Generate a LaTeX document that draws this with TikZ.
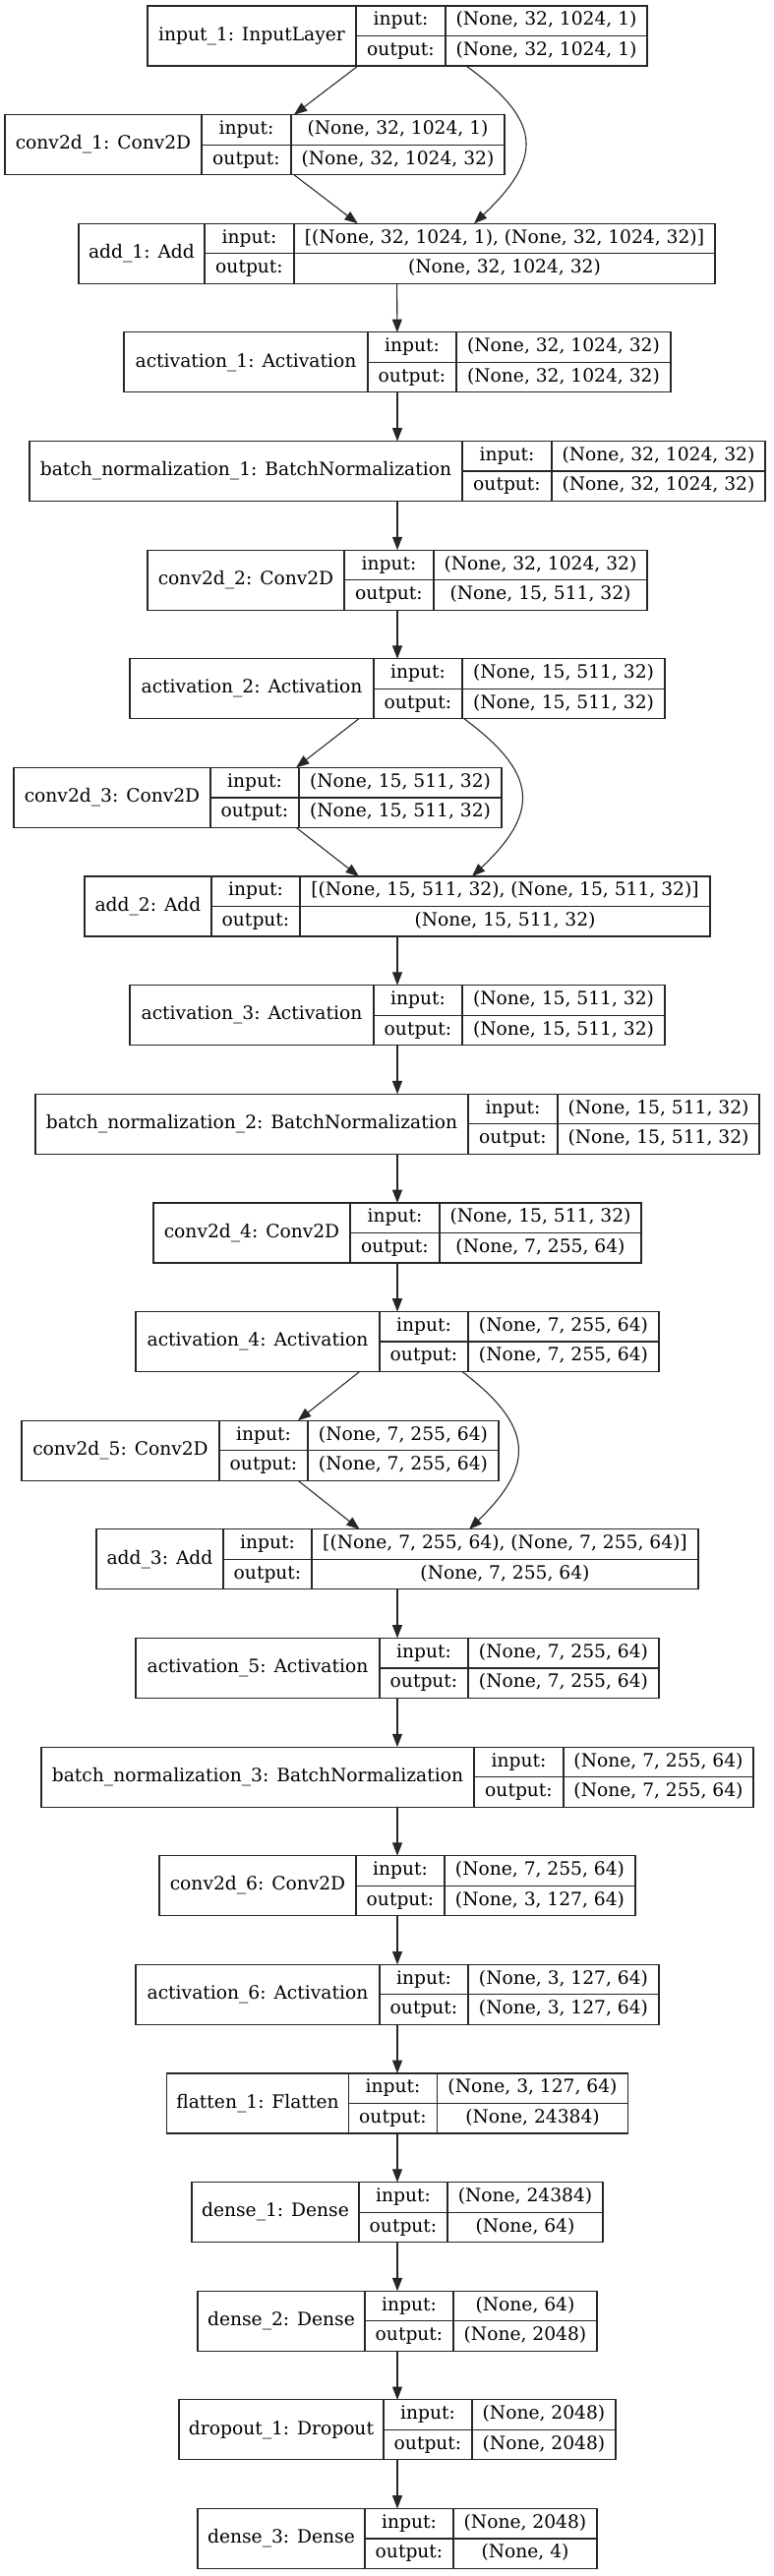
\documentclass[tikz,border=0pt]{standalone}
\usepackage{fontspec}
\setmainfont{DejaVu Serif}
\usepackage{tikz}
\usetikzlibrary{arrows.meta}

% one keras layer as a record: name | input/output | shapes
% args: id, centre x, row, name width, label width, value width, name, in, out (widths in px)
\newcommand{\reclayer}[9]{%
  \pgfmathsetmacro{\wtot}{(#4+#5+#6)*0.75}%
  \pgfmathsetmacro{\wname}{#4*0.75}%
  \pgfmathsetmacro{\wlab}{#5*0.75}%
  \pgfmathsetmacro{\wval}{#6*0.75}%
  \node[recbox, minimum width=\wtot pt] (#1) at (#2,{36.5+110.63*#3}) {};
  \node[cell, minimum width=\wname pt, minimum height=45.75pt, anchor=north west] (#1-name) at (#1.north west) {#7};
  \node[cell, minimum width=\wlab pt, anchor=north west] (#1-in) at (#1-name.north east) {input:};
  \node[cell, minimum width=\wlab pt, anchor=south west] (#1-out) at (#1-name.south east) {output:};
  \node[cell, minimum width=\wval pt, anchor=north west] (#1-inval) at (#1-in.north east) {#8};
  \node[cell, minimum width=\wval pt, anchor=north west] (#1-outval) at (#1-out.north east) {#9};
}

\begin{document}
\begin{tikzpicture}[
  x=0.75pt, y=-0.75pt,
  recbox/.style={inner sep=0pt, outer sep=0pt, minimum height=45.75pt},
  cell/.style={draw=black!85, line width=0.9pt, inner sep=0pt, outer sep=0pt, minimum height=22.875pt,
    text height=10.5pt, text depth=3.5pt, font=\fontsize{14}{16}\selectfont},
  arr/.style={draw=black!85, -{Triangle[length=10pt,width=7.5pt]}, line width=0.8pt}
]
\fill[white] (0,0) rectangle (787,2619);
\useasboundingbox (0,0) rectangle (787,2619);

\reclayer{input1}{404}{0}{212}{91}{205}{input\_1: InputLayer}{(None, 32, 1024, 1)}{(None, 32, 1024, 1)}
\reclayer{conv2d1}{259}{1}{200}{91}{217}{conv2d\_1: Conv2D}{(None, 32, 1024, 1)}{(None, 32, 1024, 32)}
\reclayer{add1}{403.5}{2}{128}{91}{428}{add\_1: Add}{[(None, 32, 1024, 1), (None, 32, 1024, 32)]}{(None, 32, 1024, 32)}
\reclayer{act1}{404}{3}{248}{90}{218}{activation\_1: Activation}{(None, 32, 1024, 32)}{(None, 32, 1024, 32)}
\reclayer{bn1}{404}{4}{440}{91}{217}{batch\_normalization\_1: BatchNormalization}{(None, 32, 1024, 32)}{(None, 32, 1024, 32)}
\reclayer{conv2d2}{404}{5}{200}{91}{217}{conv2d\_2: Conv2D}{(None, 32, 1024, 32)}{(None, 15, 511, 32)}
\reclayer{act2}{404}{6}{248}{90}{206}{activation\_2: Activation}{(None, 15, 511, 32)}{(None, 15, 511, 32)}
\reclayer{conv2d3}{262}{7}{200}{90}{206}{conv2d\_3: Conv2D}{(None, 15, 511, 32)}{(None, 15, 511, 32)}
\reclayer{add2}{404}{8}{129}{90}{417}{add\_2: Add}{[(None, 15, 511, 32), (None, 15, 511, 32)]}{(None, 15, 511, 32)}
\reclayer{act3}{404}{9}{248}{90}{206}{activation\_3: Activation}{(None, 15, 511, 32)}{(None, 15, 511, 32)}
\reclayer{bn2}{404}{10}{440}{91}{205}{batch\_normalization\_2: BatchNormalization}{(None, 15, 511, 32)}{(None, 15, 511, 32)}
\reclayer{conv2d4}{404}{11}{200}{91}{205}{conv2d\_4: Conv2D}{(None, 15, 511, 32)}{(None, 7, 255, 64)}
\reclayer{act4}{404}{12}{248}{90}{194}{activation\_4: Activation}{(None, 7, 255, 64)}{(None, 7, 255, 64)}
\reclayer{conv2d5}{264.5}{13}{201}{90}{194}{conv2d\_5: Conv2D}{(None, 7, 255, 64)}{(None, 7, 255, 64)}
\reclayer{add3}{404}{14}{129}{90}{393}{add\_3: Add}{[(None, 7, 255, 64), (None, 7, 255, 64)]}{(None, 7, 255, 64)}
\reclayer{act5}{404}{15}{248}{90}{194}{activation\_5: Activation}{(None, 7, 255, 64)}{(None, 7, 255, 64)}
\reclayer{bn3}{404}{16}{440}{91}{193}{batch\_normalization\_3: BatchNormalization}{(None, 7, 255, 64)}{(None, 7, 255, 64)}
\reclayer{conv2d6}{404}{17}{200}{90}{194}{conv2d\_6: Conv2D}{(None, 7, 255, 64)}{(None, 3, 127, 64)}
\reclayer{act6}{404}{18}{248}{90}{194}{activation\_6: Activation}{(None, 3, 127, 64)}{(None, 3, 127, 64)}
\reclayer{flatten1}{404}{19}{185}{90}{194}{flatten\_1: Flatten}{(None, 3, 127, 64)}{(None, 24384)}
\reclayer{dense1}{404}{20}{170}{90}{158}{dense\_1: Dense}{(None, 24384)}{(None, 64)}
\reclayer{dense2}{404}{21}{170}{90}{146}{dense\_2: Dense}{(None, 64)}{(None, 2048)}
\reclayer{dropout1}{404}{22}{208}{90}{146}{dropout\_1: Dropout}{(None, 2048)}{(None, 2048)}
\reclayer{dense3}{404}{23}{170}{90}{146}{dense\_3: Dense}{(None, 2048)}{(None, 4)}

% residual block 1
\draw[arr] (input1) -- (conv2d1);
\draw[arr] (conv2d1) -- (add1);
\draw[arr] ([xshift=52.5pt]input1.south) .. controls +(76,55) and +(72,-68) .. ([xshift=58.9pt]add1.north);
\draw[arr] (add1) -- (act1);
\draw[arr] (act1) -- (bn1);
\draw[arr] (bn1) -- (conv2d2);
\draw[arr] (conv2d2) -- (act2);
% residual block 2
\draw[arr] (act2) -- (conv2d3);
\draw[arr] (conv2d3) -- (add2);
\draw[arr] ([xshift=51pt]act2.south) .. controls +(74,55) and +(70,-66) .. ([xshift=57pt]add2.north);
\draw[arr] (add2) -- (act3);
\draw[arr] (act3) -- (bn2);
\draw[arr] (bn2) -- (conv2d4);
\draw[arr] (conv2d4) -- (act4);
% residual block 3
\draw[arr] (act4) -- (conv2d5);
\draw[arr] (conv2d5) -- (add3);
\draw[arr] ([xshift=49.5pt]act4.south) .. controls +(72,55) and +(68,-66) .. ([xshift=54.75pt]add3.north);
\draw[arr] (add3) -- (act5);
\draw[arr] (act5) -- (bn3);
\draw[arr] (bn3) -- (conv2d6);
\draw[arr] (conv2d6) -- (act6);
% dense head
\draw[arr] (act6) -- (flatten1);
\draw[arr] (flatten1) -- (dense1);
\draw[arr] (dense1) -- (dense2);
\draw[arr] (dense2) -- (dropout1);
\draw[arr] (dropout1) -- (dense3);
\end{tikzpicture}
\end{document}
